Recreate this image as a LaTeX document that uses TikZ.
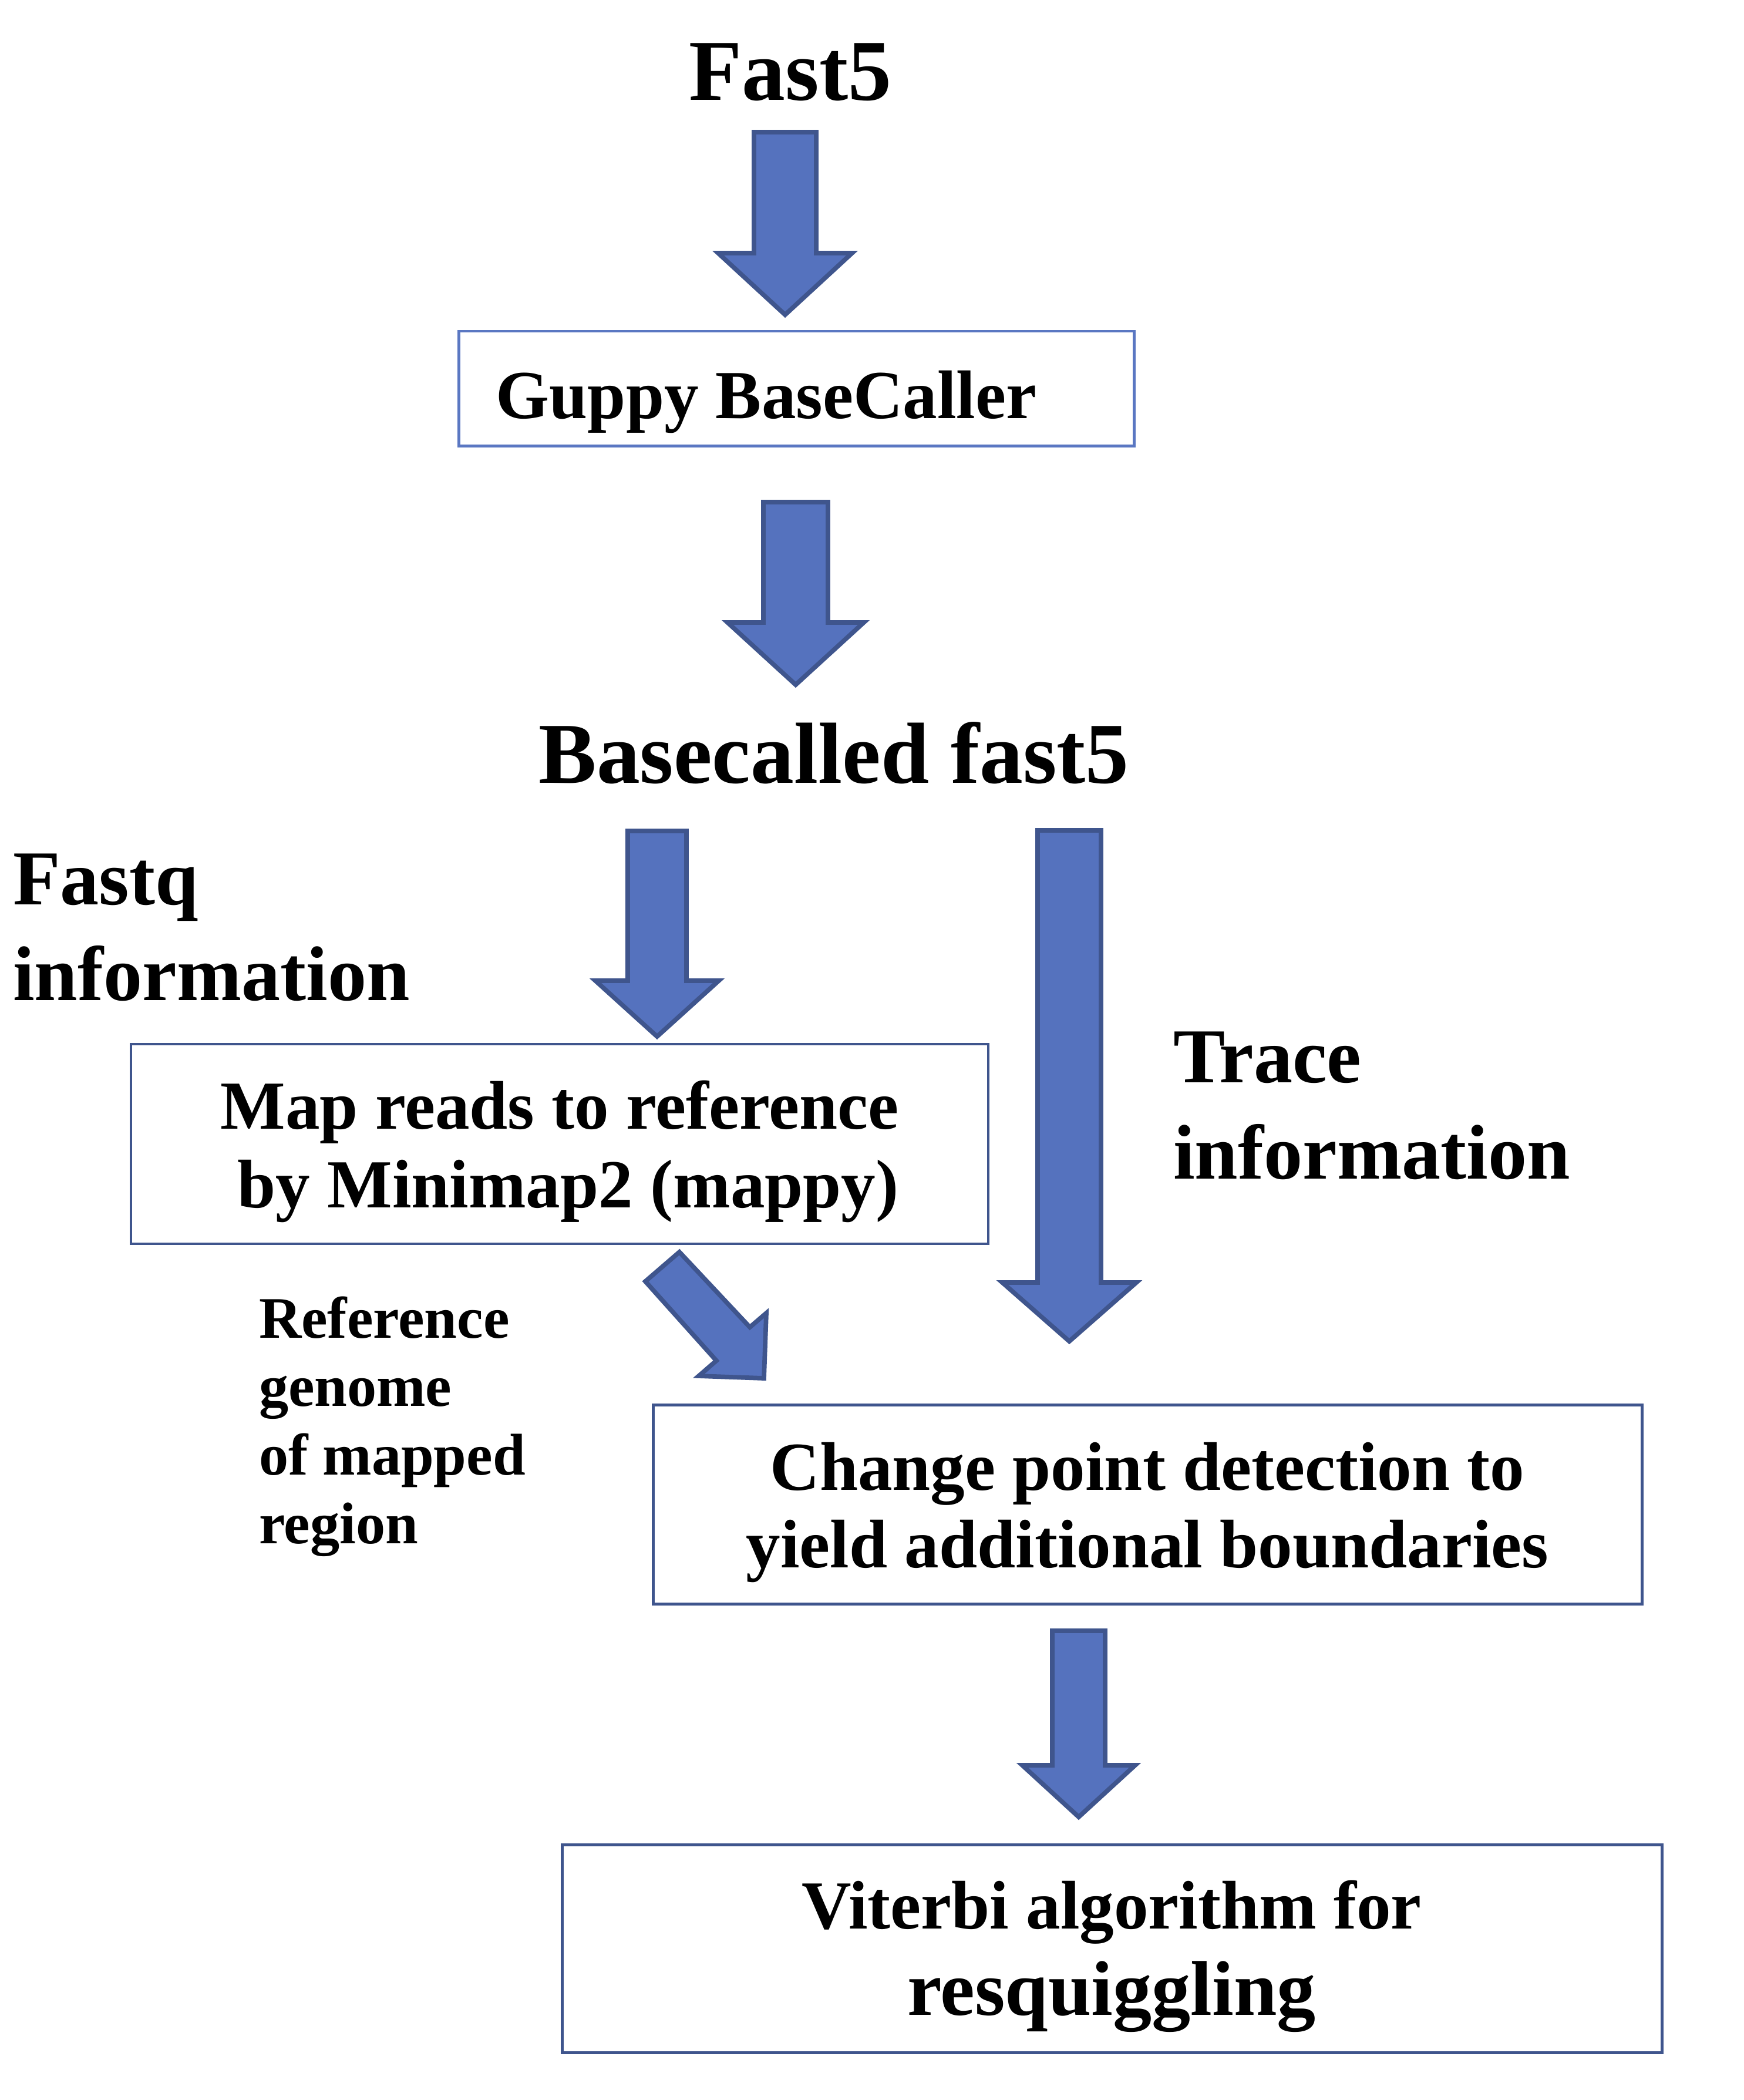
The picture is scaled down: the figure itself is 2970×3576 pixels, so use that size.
\documentclass[tikz,border=0pt]{standalone}
\usepackage{fontspec}
\setmainfont{Liberation Serif}
\definecolor{afill}{HTML}{5572BE}
\definecolor{aline}{HTML}{3F558D}
\definecolor{gline}{HTML}{5A77C2}
\newcommand\linesC[2]{\vtop{\baselineskip=#1\lineskiplimit=-1000pt\lineskip=0pt\halign{\hfil##\hfil\cr#2\crcr}}}
\newcommand\linesL[2]{\vtop{\baselineskip=#1\lineskiplimit=-1000pt\lineskip=0pt\halign{##\hfil\cr#2\crcr}}}
\newcommand\vbarrow[6]{%
  \draw[blockarrow] (#1-#3,#2) -- (#1+#3,#2) -- (#1+#3,#4) -- (#1+#5,#4) -- (#1,#6) -- (#1-#5,#4) -- (#1-#3,#4) -- cycle;}
\begin{document}
\begin{tikzpicture}[x=0.01cm,y=-0.01cm,
  blockarrow/.style={fill=afill,draw=aline,line width=2.2pt,line join=miter},
  procbox/.style={draw=aline,line width=1.3pt,fill=none},
  huge/.style={font=\fontsize{42}{50}\selectfont\bfseries},
  big/.style={font=\fontsize{37.6}{45}\selectfont\bfseries},
  mid/.style={font=\fontsize{33.3}{40}\selectfont\bfseries},
  small/.style={font=\fontsize{28.5}{34}\selectfont\bfseries},
  lbl/.style={inner sep=0pt,outer sep=0pt}]
\useasboundingbox (0,0) rectangle (2970,3576);
\fill[white] (0,0) rectangle (2970,3576);

% boxes
\draw[draw=gline,line width=1.42pt] (781,564) rectangle (1931,759);
\draw[procbox,line width=1.15pt] (223,1778) rectangle (1683,2118);
\draw[procbox,line width=1.42pt] (1112,2392) rectangle (2796,2731);
\draw[procbox,line width=1.42pt] (957,3141) rectangle (2830,3495);

% texts
\node[lbl,huge,anchor=base] (fast5) at (1346,171) {Fast5};
\node[lbl,mid,anchor=base] (guppy) at (1305,712) {Guppy BaseCaller};
\node[lbl,huge,anchor=base] (basecalled) at (1420,1333) {Basecalled fast5};
\node[lbl,big,anchor=base west] (fastq) at (22,1540) {\linesL{46.4pt}{Fastq\cr information}};
\node[lbl,big,anchor=base west] (trace) at (1998,1843) {\linesL{46.9pt}{Trace\cr information}};
\node[lbl,mid,anchor=base] (map) at (953,1922) {\linesC{38.1pt}{Map reads to reference\cr \hspace*{0.25em}by Minimap2 (mappy)}};
\node[lbl,small,anchor=base west] (refgen) at (441,2278) {\linesL{33.2pt}{Reference\cr genome\cr of mapped\cr region}};
\node[lbl,mid,anchor=base] (change) at (1954,2537) {\linesC{37.8pt}{Change point detection to\cr yield additional boundaries}};
\node[lbl,mid,anchor=base] (viterbi) at (1893,3284) {\linesC{41.8pt}{Viterbi algorithm for\cr \fontsize{37.6}{45}\selectfont resquiggling}};

% block arrows
\vbarrow{1337}{225}{53}{431}{114}{536}
\vbarrow{1355}{855}{55}{1060}{116}{1166}
\vbarrow{1119}{1415}{50}{1670}{105}{1765}
\vbarrow{1821}{1414}{54}{2184}{114}{2284}
\vbarrow{1837}{2777}{45}{3006}{96}{3094}
\draw[blockarrow] (1157,2132) -- (1099,2182) -- (1220,2317) -- (1190,2343) -- (1301,2347) -- (1305,2236) -- (1277,2260) -- cycle;
\end{tikzpicture}
\end{document}
